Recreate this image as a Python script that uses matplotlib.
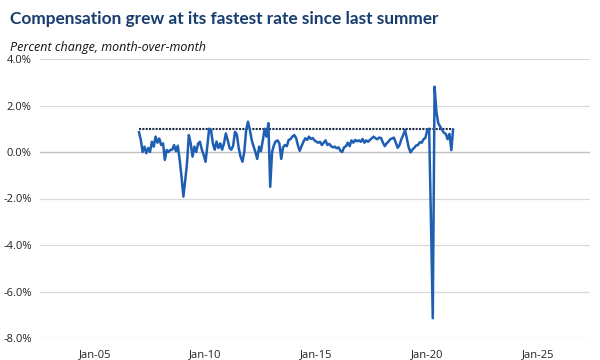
import numpy as np
import pandas as pd
import matplotlib
matplotlib.use("Agg")
import matplotlib.pyplot as plt
import matplotlib.dates as mdates

title = "Compensation grew at its fastest rate since last summer"
subtitle = "Percent change, month-over-month"

start_month = "2007-01-01"
values = [
    0.85, 0.5, 0.0, 0.23, -0.05, 0.17, 0.0, 0.44, 0.23, 0.66,
    0.4, 0.58, 0.3, 0.37, -0.34, 0.09, 0.0, 0.09, 0.1, 0.3,
    0.03, 0.27, -0.34, -1.06, -1.92, -1.2, -0.5, 0.73, 0.37, -0.2,
    0.23, 0.0, 0.37, 0.44, 0.1, -0.13, -0.42, 0.3, 1.0, 0.95,
    0.38, 0.1, 0.45, 0.17, 0.37, 0.1, 0.37, 0.8, 0.51, 0.17,
    0.1, 0.27, 0.87, 0.75, 0.17, -0.2, -0.42, 0.0, 0.95, 1.3,
    0.95, 0.51, 0.25, 0.0, -0.3, 0.23, 0.03, 0.5, 1.0, 0.66,
    1.24, -1.5, 0.0, 0.3, 0.45, 0.5, 0.37, -0.3, 0.2, 0.3,
    0.25, 0.52, 0.55, 0.66, 0.73, 0.6, 0.3, 0.05, 0.25, 0.44,
    0.59, 0.52, 0.66, 0.56, 0.6, 0.5, 0.44, 0.4, 0.44, 0.3,
    0.4, 0.5, 0.3, 0.35, 0.25, 0.2, 0.23, 0.16, 0.2, 0.05,
    0.0, 0.2, 0.25, 0.4, 0.25, 0.5, 0.4, 0.52, 0.46, 0.5,
    0.44, 0.56, 0.4, 0.5, 0.44, 0.52, 0.59, 0.66, 0.59, 0.55,
    0.62, 0.6, 0.4, 0.25, 0.37, 0.44, 0.55, 0.58, 0.62, 0.4,
    0.18, 0.3, 0.55, 0.73, 0.95, 0.55, 0.2, -0.02, 0.1, 0.18,
    0.28, 0.3, 0.42, 0.4, 0.55, 0.6, 0.95, 1.0, -2.8, -7.15,
    2.81, 1.7, 1.23, 1.09, 0.95, 0.83, 0.78, 0.55, 0.78, 0.08,
    0.97,
]
y_ticks = [-8, -6, -4, -2, 0, 2, 4]
x_tick_years = [2005, 2010, 2015, 2020, 2025]

dates = pd.date_range(start_month, periods=len(values), freq="MS")
ref_level = values[-1]

fig = plt.figure(figsize=(6, 3.6), dpi=100)
ax = fig.add_axes([40/600, 22/360, 550/600, 279/360])

ax.set_xlim(pd.Timestamp("2002-07-15"), pd.Timestamp("2027-05-05"))
ax.set_ylim(-8, 4)

for yt in y_ticks:
    if yt == 0:
        continue
    ax.axhline(yt, color="#d9d9d9", lw=0.9, zorder=1)
ax.axhline(0, color="#bfbfbf", lw=1.0, zorder=1)

ax.plot([dates[0], dates[-1]], [ref_level, ref_level], color="#1f2b47",
        lw=1.5, ls=(0, (1, 0.6)), zorder=2)
ax.plot(dates, values, color="#1f5fb3", lw=1.8, zorder=3, solid_joinstyle="round")

ax.set_yticks(y_ticks)
ax.set_yticklabels([f"{v:.1f}%" for v in y_ticks])
ax.set_xticks([pd.Timestamp(f"{y}-01-01") for y in x_tick_years])
ax.xaxis.set_major_formatter(mdates.DateFormatter("%b-%y"))

for s in ax.spines.values():
    s.set_visible(False)
ax.tick_params(axis="both", length=0, labelsize=8, colors="#222222", pad=6)
ax.tick_params(axis="x", pad=8)
for lab in ax.get_xticklabels() + ax.get_yticklabels():
    lab.set_fontfamily("Open Sans")

fig.text(10/600, 1 - 19/360, title, fontsize=12.4, fontweight="bold",
         color="#173d6e", family="Lato", va="center", ha="left")
fig.text(10/600, 1 - 47/360, subtitle, fontsize=9.0, style="italic",
         color="#111111", family="Open Sans", va="center", ha="left")

fig.savefig("out.png", dpi=100)
